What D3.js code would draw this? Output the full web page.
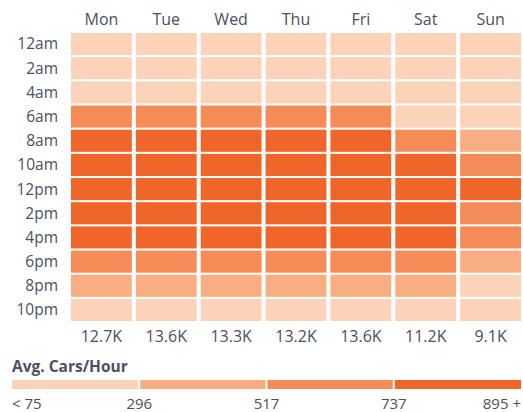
<!DOCTYPE html>
<html>
<head>
<meta charset="utf-8">
<script src="https://d3js.org/d3.v7.min.js"></script>
<style>
  body { margin: 0; background: #fff; }
  text { font-family: "Open Sans", sans-serif; fill: #4a5162; }
</style>
</head>
<body>
<svg id="chart" width="523" height="412"></svg>
<script>
var days = ["Mon", "Tue", "Wed", "Thu", "Fri", "Sat", "Sun"];
var hours = ["12am", "2am", "4am", "6am", "8am", "10am", "12pm", "2pm", "4pm", "6pm", "8pm", "10pm"];
var totals = ["12.7K", "13.6K", "13.3K", "13.2K", "13.6K", "11.2K", "9.1K"];

// avg cars per hour, one row per time slot, one column per day (Mon..Sun)
var values = [
  [ 90,  95,  92,  94,  98, 130, 120],
  [ 60,  62,  60,  61,  64,  85,  80],
  [ 75,  78,  76,  77,  80,  90,  85],
  [640, 690, 680, 670, 660, 240, 150],
  [880, 940, 920, 910, 900, 610, 420],
  [850, 880, 870, 860, 890, 820, 640],
  [860, 890, 880, 870, 910, 860, 760],
  [870, 900, 890, 880, 930, 840, 700],
  [900, 950, 930, 920, 960, 780, 660],
  [650, 700, 690, 680, 720, 600, 450],
  [420, 450, 440, 430, 480, 400, 280],
  [230, 250, 240, 240, 280, 220, 160]
];

var legendLabels = ["< 75", "296", "517", "737", "895 +"];
var thresholds = [296, 517, 737];
var colors = ["#fbd3b9", "#f8ae82", "#f58b56", "#f06529"];

var svg = d3.select("#chart");

var x = d3.scaleBand().domain(days).range([71, 521]).paddingInner(0.062).paddingOuter(0);
var y = d3.scaleBand().domain(hours).range([33, 321]).paddingInner(0.085).paddingOuter(0);
var color = d3.scaleThreshold().domain(thresholds).range(colors);

var cells = [];
values.forEach(function(row, i) {
  row.forEach(function(v, j) {
    cells.push({hour: hours[i], day: days[j], value: v});
  });
});

svg.append("g").selectAll("rect")
  .data(cells)
  .enter().append("rect")
    .attr("x", function(d) { return x(d.day); })
    .attr("y", function(d) { return y(d.hour); })
    .attr("width", x.bandwidth())
    .attr("height", y.bandwidth())
    .attr("fill", function(d) { return color(d.value); });

// day labels
svg.append("g").selectAll("text")
  .data(days)
  .enter().append("text")
    .attr("x", function(d) { return x(d) + x.bandwidth() / 2; })
    .attr("y", 19)
    .attr("dy", "0.35em")
    .attr("text-anchor", "middle")
    .attr("font-size", 16)
    .text(function(d) { return d; });

// hour labels
svg.append("g").selectAll("text")
  .data(hours)
  .enter().append("text")
    .attr("x", 58)
    .attr("y", function(d) { return y(d) + y.bandwidth() / 2; })
    .attr("dy", "0.35em")
    .attr("text-anchor", "end")
    .attr("font-size", 15.5)
    .text(function(d) { return d; });

// daily totals
svg.append("g").selectAll("text")
  .data(totals)
  .enter().append("text")
    .attr("x", function(d, i) { return x(days[i]) + x.bandwidth() / 2; })
    .attr("y", 336)
    .attr("dy", "0.35em")
    .attr("text-anchor", "middle")
    .attr("font-size", 16)
    .text(function(d) { return d; });

// legend
svg.append("text")
  .attr("x", 12)
  .attr("y", 367)
  .attr("dy", "0.35em")
  .attr("font-size", 15.5)
  .attr("font-weight", "bold")
  .text("Avg. Cars/Hour");

var lx = d3.scaleLinear().domain([0, colors.length]).range([12, 521]);

svg.append("g").selectAll("rect")
  .data(colors)
  .enter().append("rect")
    .attr("x", function(d, i) { return lx(i) + (i > 0 ? 1 : 0); })
    .attr("y", 380)
    .attr("width", function(d, i) { return lx(i + 1) - lx(i) - (i > 0 ? 1 : 0) - (i < colors.length - 1 ? 1 : 0); })
    .attr("height", 9)
    .attr("fill", function(d) { return d; });

svg.append("g").selectAll("text")
  .data(legendLabels)
  .enter().append("text")
    .attr("x", function(d, i) { return lx(i); })
    .attr("y", 404)
    .attr("dy", "0.35em")
    .attr("text-anchor", function(d, i) { return i === 0 ? "start" : (i === legendLabels.length - 1 ? "end" : "middle"); })
    .attr("font-size", 15)
    .text(function(d) { return d; });
</script>
</body>
</html>
